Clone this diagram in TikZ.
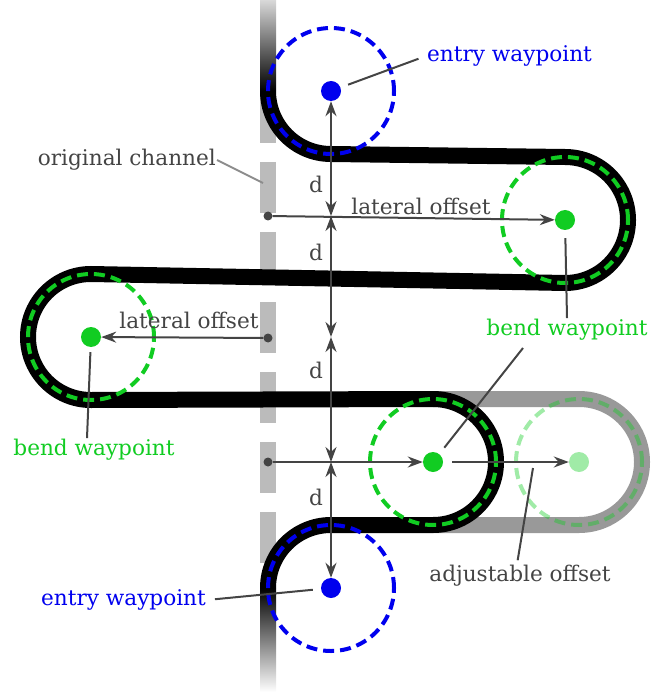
\documentclass[tikz,border=0pt]{standalone}
\usepackage{fontspec}
\setmainfont{DejaVu Serif}
\usetikzlibrary{arrows.meta}
\definecolor{wpblue}{HTML}{0000EE}
\definecolor{wpgreen}{HTML}{11CC22}
\definecolor{wpgrey}{HTML}{444444}
\definecolor{changrey}{HTML}{BBBBBB}
\tikzset{every node/.style={font=\fontsize{21.6}{25}\selectfont},
  route/.style={line width=16pt},
  zone/.style={circle,draw,line width=4pt,dash pattern=on 11pt off 6pt,
    minimum size=126pt,inner sep=0pt},
  wpdot/.style={circle,fill,minimum size=20pt,inner sep=0pt},
  chandot/.style={circle,fill=wpgrey,minimum size=9pt,inner sep=0pt},
  lbl/.style={text=wpgrey,inner sep=1pt},
  leader/.style={draw=wpgrey,line width=2pt}}

\begin{document}
\begin{tikzpicture}[x=1pt,y=-1pt,
    arr/.style={draw=wpgrey,line width=2pt,-{Stealth[length=15pt,width=11pt]}},
    dim/.style={draw=wpgrey,line width=2pt,
      {Stealth[length=15pt,width=11pt]}-{Stealth[length=15pt,width=11pt]}}]
  \path[use as bounding box] (0,0) rectangle (670,692);

  % Original channel
  \draw[changrey,line width=16pt,dash pattern=on 51pt off 19pt,dash phase=48pt]
    (268,0) -- (268,692);
  \shade[top color=black!15,bottom color=black] (260,0) rectangle (276,91);
  \shade[top color=black,bottom color=white] (260,588) rectangle (276,692);

  % Adjusted bend (ghost)
  \draw[route,black!40] (433,399) -- (579,399)
    arc[start angle=-90,end angle=90,radius=63] -- (433,525);
  \node[zone,draw=wpgreen,draw opacity=0.4] (gzone) at (579,462) {};

  % Routed path
  \draw[route] (268,91) arc[start angle=180,end angle=90,radius=63]
    -- (565,157) arc[start angle=-90,end angle=90,radius=63]
    -- (91,274) arc[start angle=270,end angle=90,radius=63]
    -- (433,399) arc[start angle=-90,end angle=90,radius=63]
    -- (331,525) arc[start angle=270,end angle=180,radius=63];

  % Waypoints
  \node[zone,draw=wpblue] (e1zone) at (331,91) {};
  \node[zone,draw=wpgreen] (b1zone) at (565,220) {};
  \node[zone,draw=wpgreen] (b2zone) at (91,337) {};
  \node[zone,draw=wpgreen] (b3zone) at (433,462) {};
  \node[zone,draw=wpblue] (e2zone) at (331,588) {};
  \node[wpdot,wpblue] (e1) at (331,91) {};
  \node[wpdot,wpgreen] (b1) at (565,220) {};
  \node[wpdot,wpgreen] (b2) at (91,337) {};
  \node[wpdot,wpgreen] (b3) at (433,462) {};
  \node[wpdot,wpblue] (e2) at (331,588) {};
  \node[wpdot,fill=wpgreen!40] (g) at (579,462) {};

  % Offsets from the channel
  \node[chandot] (c1) at (268,216) {};
  \node[chandot] (c2) at (268,338) {};
  \node[chandot] (c3) at (268,462) {};
  \coordinate (j1) at (331,216);
  \coordinate (j2) at (331,337);
  \coordinate (j3) at (331,462);
  \draw[arr] (c1) -- (b1);
  \draw[arr] (c2) -- (b2);
  \draw[arr] (c3) -- (b3);
  \draw[arr,shorten <=9pt] (b3) -- (g);
  \node[lbl] (offsetA) at (421,206) {lateral offset};
  \node[lbl] (offsetB) at (189,320) {lateral offset};

  % Spacing d
  \draw[dim] (e1) -- (j1);
  \draw[dim] (j1) -- (j2);
  \draw[dim] (j2) -- (j3);
  \draw[dim] (j3) -- (e2);
  \node[lbl] (dA) at (316,184) {d};
  \node[lbl] (dB) at (316,252) {d};
  \node[lbl] (dC) at (316,370) {d};
  \node[lbl] (dD) at (316,497) {d};

  % Labels
  \node[lbl,text=wpblue,anchor=west] (entrytop) at (426,56) {entry waypoint};
  \node[lbl,anchor=east] (chanlbl) at (217,160) {original channel};
  \node[lbl,text=wpgreen] (bendright) at (567,330) {bend waypoint};
  \node[lbl,text=wpgreen] (bendleft) at (94,450) {bend waypoint};
  \node[lbl] (adjlbl) at (520,576) {adjustable offset};
  \node[lbl,text=wpblue,anchor=east] (entrybot) at (207,600) {entry waypoint};
  \coordinate (chanpt) at (263,183);
  \coordinate (bendtip) at (523,348);
  \coordinate (adjtip) at (533,468);
  \draw[leader,shorten <=8pt,shorten >=8pt] (e1) -- (entrytop.west);
  \draw[leader,draw=black!45] (chanlbl.east) -- (chanpt);
  \draw[leader,shorten <=8pt] (b1) -- (bendright.north);
  \draw[leader,shorten <=8pt] (b3) -- (bendtip);
  \draw[leader,shorten <=5pt] (b2) -- ([xshift=-7pt]bendleft.north);
  \draw[leader,shorten <=4pt] ([xshift=-3pt]adjlbl.north) -- (adjtip);
  \draw[leader,shorten <=8pt,shorten >=8pt] (e2) -- (entrybot.east);
\end{tikzpicture}
\end{document}
